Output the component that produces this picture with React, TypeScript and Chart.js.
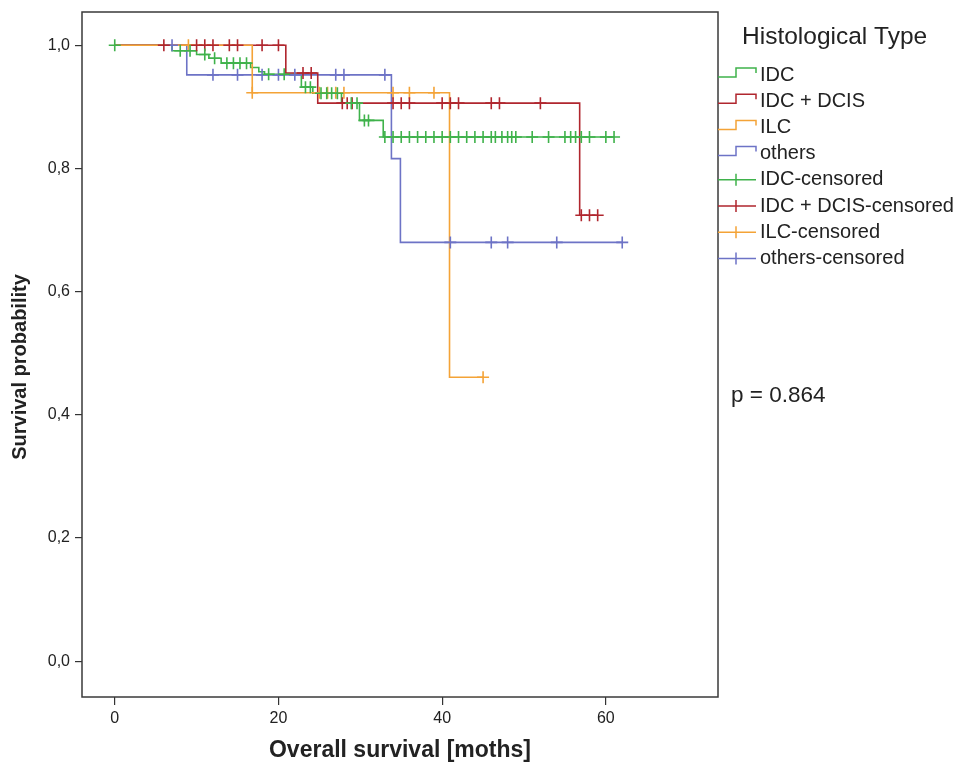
import React, { useEffect, useRef } from 'react';
import { Chart, registerables } from 'chart.js';

Chart.register(...registerables);

// ---- data ----
const xTickValues = [0, 20, 40, 60];
const yTickValues = [0, 0.2, 0.4, 0.6, 0.8, 1.0];

const groupNames = ['IDC', 'IDC + DCIS', 'ILC', 'others'];
const groupColors = ['#3fb24b', '#b0262e', '#f4a337', '#6d73c6'];

// Kaplan-Meier steps (time in months, survival after the event)
const idcTimes = [0, 7, 10, 11.5, 13, 16.6, 17.6, 18.3, 22.8, 24.2, 27.7, 29.9, 32.8, 61];
const idcSurv = [1, 0.991, 0.985, 0.979, 0.971, 0.964, 0.957, 0.953, 0.932, 0.922, 0.906, 0.878, 0.851, 0.851];
const idcCensored = [0, 8, 9.2, 11, 12.2, 13.7, 14.5, 15.3, 16.1, 18.8, 20.7, 23.3, 23.9, 25.2, 25.9, 26.5, 27.2, 28.9, 29.6, 30.5, 31, 33, 34, 35, 36, 37, 38, 39, 40, 41, 42, 43, 44, 45, 46, 46.5, 47.3, 48, 48.5, 49, 51, 53, 55, 55.7, 56.3, 57, 58, 60, 61];

const dcisTimes = [0, 20.9, 24.8, 56.8, 59];
const dcisSurv = [1, 0.955, 0.906, 0.724, 0.724];
const dcisCensored = [6, 10, 11, 12, 14, 15, 18, 20, 23, 24, 27.8, 28.4, 29, 34, 35, 36, 40, 41, 42, 46, 47, 52, 57, 58, 59];

const ilcTimes = [0, 16.8, 40.9, 45];
const ilcSurv = [1, 0.923, 0.461, 0.461];
const ilcCensored = [9, 16.8, 25, 26, 27, 28, 34, 36, 39, 45];

const othersTimes = [0, 8.8, 33.8, 34.9, 62];
const othersSurv = [1, 0.952, 0.816, 0.68, 0.68];
const othersCensored = [7, 12, 15, 18, 20, 22, 27, 28, 33, 41, 46, 48, 54, 62];

const pValueText = 'p = 0.864';
const legendTitle = 'Histological Type';
const xTitle = 'Overall survival [moths]';
const yTitle = 'Survival probability';

const allTimes = [idcTimes, dcisTimes, ilcTimes, othersTimes];
const allSurv = [idcSurv, dcisSurv, ilcSurv, othersSurv];
const allCensored = [idcCensored, dcisCensored, ilcCensored, othersCensored];

function survAt(times: number[], surv: number[], t: number): number {
  let s = surv[0];
  for (let i = 0; i < times.length; i++) {
    if (times[i] <= t) s = surv[i];
  }
  return s;
}

const FONT = '"Liberation Sans", Arial, sans-serif';

const kmLegend = {
  id: 'kmLegend',
  afterDraw(chart: any) {
    const ctx = chart.ctx as CanvasRenderingContext2D;
    const area = chart.chartArea;
    ctx.save();
    // plot frame
    ctx.strokeStyle = '#3a3a3a';
    ctx.lineWidth = 1.5;
    ctx.strokeRect(area.left, area.top, area.right - area.left, area.bottom - area.top);

    // y axis title
    ctx.save();
    ctx.translate(20, 367);
    ctx.rotate(-Math.PI / 2);
    ctx.fillStyle = '#222';
    ctx.textAlign = 'center';
    ctx.textBaseline = 'middle';
    ctx.font = `bold 20px ${FONT}`;
    ctx.fillText(yTitle, 0, 0);
    ctx.restore();

    ctx.fillStyle = '#222';
    ctx.textBaseline = 'middle';
    ctx.textAlign = 'left';
    ctx.font = `24.5px ${FONT}`;
    ctx.fillText(legendTitle, 742, 37);

    const x0 = area.right;
    const xm = x0 + 18;
    const x1 = x0 + 38;
    ctx.font = `20px ${FONT}`;
    ctx.lineWidth = 1.5;
    for (let i = 0; i < 8; i++) {
      const cy = 75 + i * 26.2;
      const g = i % 4;
      ctx.strokeStyle = groupColors[g];
      ctx.beginPath();
      if (i < 4) {
        ctx.moveTo(x0, cy + 2);
        ctx.lineTo(xm, cy + 2);
        ctx.lineTo(xm, cy - 7);
        ctx.lineTo(x1, cy - 7);
        ctx.lineTo(x1, cy - 2);
      } else {
        ctx.moveTo(x0, cy);
        ctx.lineTo(x1, cy);
        ctx.moveTo(xm, cy - 6);
        ctx.lineTo(xm, cy + 6);
      }
      ctx.stroke();
      ctx.fillStyle = '#222';
      ctx.fillText(i < 4 ? groupNames[g] : groupNames[g] + '-censored', x1 + 4, cy);
    }
    ctx.font = `22.5px ${FONT}`;
    ctx.fillText(pValueText, 731, 396);
    ctx.restore();
  },
};

export default function App() {
  const ref = useRef<HTMLCanvasElement>(null);
  useEffect(() => {
    if (!ref.current) return;
    const censorSets = allCensored.map((cs, g) => ({
      label: groupNames[g] + '-censored',
      data: cs.map((t) => ({ x: t, y: survAt(allTimes[g], allSurv[g], t) })),
      showLine: false,
      borderColor: groupColors[g],
      backgroundColor: groupColors[g],
      pointStyle: 'cross',
      pointRadius: 6,
      pointBorderWidth: 1.6,
      pointHoverRadius: 6,
    }));
    const lineOrder = [2, 1, 3, 0];
    const lineSets = lineOrder.map((g) => ({
      label: groupNames[g],
      data: allTimes[g].map((t, i) => ({ x: t, y: allSurv[g][i] })),
      stepped: 'before',
      borderColor: groupColors[g],
      borderWidth: 1.6,
      pointRadius: 0,
      fill: false,
    }));
    const chart = new Chart(ref.current, {
      type: 'line',
      data: { datasets: [...censorSets, ...lineSets] as any },
      options: {
        responsive: false,
        animation: false,
        events: [],
        layout: { padding: { left: 0, top: 12, right: 240, bottom: 0 } },
        plugins: { legend: { display: false }, tooltip: { enabled: false } },
        scales: {
          x: {
            type: 'linear',
            min: -4,
            max: 73.7,
            afterFit: (s: any) => { s.height = 68; s.paddingLeft = 0; s.paddingRight = 0; },
            afterBuildTicks: (s: any) => { s.ticks = xTickValues.map((v) => ({ value: v })); },
            border: { display: false },
            grid: { drawOnChartArea: false, drawTicks: true, tickLength: 8, color: '#333', lineWidth: 1.2 },
            ticks: { padding: 4, color: '#222', font: { family: FONT, size: 16 }, maxRotation: 0 },
            title: { display: true, text: xTitle, color: '#222', font: { family: FONT, size: 23, weight: 'bold' }, padding: { top: 0, bottom: 1 } },
          },
          y: {
            type: 'linear',
            min: -0.058,
            max: 1.054,
            afterFit: (s: any) => { s.width = 82; s.paddingTop = 0; s.paddingBottom = 0; },
            afterBuildTicks: (s: any) => { s.ticks = yTickValues.map((v) => ({ value: v })); },
            border: { display: false },
            grid: { drawOnChartArea: false, drawTicks: true, tickLength: 7, color: '#333', lineWidth: 1.2 },
            ticks: { padding: 5, color: '#222', font: { family: FONT, size: 16 }, callback: (v: any) => Number(v).toFixed(1).replace('.', ',') },
            title: { display: false },
          },
        },
      },
      plugins: [kmLegend],
    });
    return () => chart.destroy();
  }, []);
  return (
    <div style={{ position: 'absolute', left: 0, top: 0, width: 958, height: 765, background: '#fff' }}>
      <canvas ref={ref} width={958} height={765} />
    </div>
  );
}
